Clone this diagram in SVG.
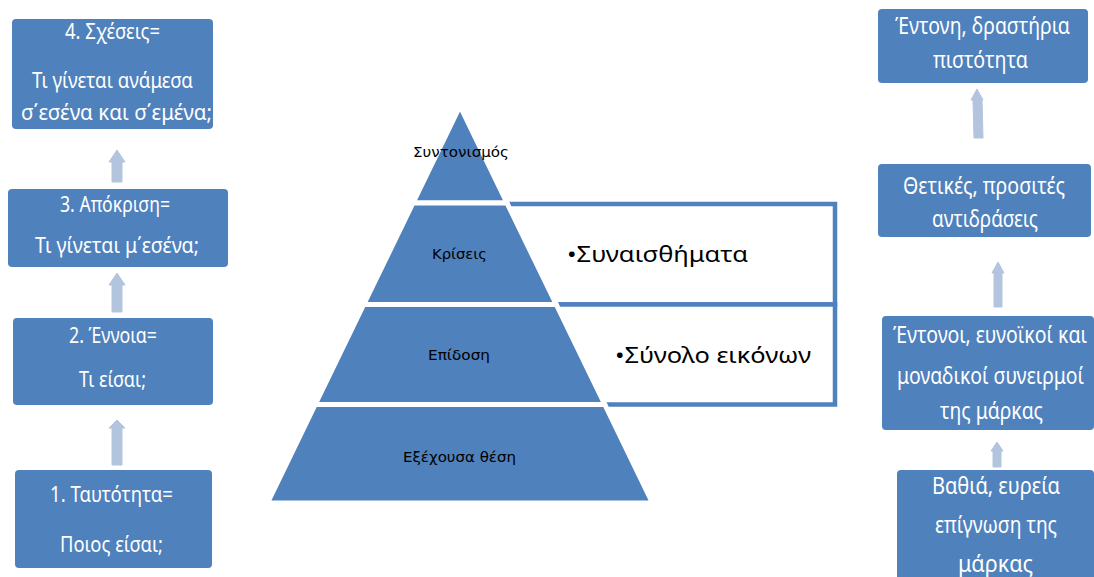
<svg xmlns="http://www.w3.org/2000/svg" width="1094" height="577" viewBox="0 0 1094 577">
<style>
.box{fill:#4F81BD}
.arr{fill:#B3C4DF;stroke:#B3C4DF;stroke-width:1;stroke-linejoin:round}
.wt{fill:#fff;font-family:"Noto Sans","DejaVu Sans",sans-serif;text-anchor:middle}
.l{font-size:21px}
.r{font-size:24px}
.pl{fill:#000;font-family:"DejaVu Sans","Noto Sans",sans-serif;font-size:14px;text-anchor:middle}
.bl{fill:#000;font-family:"Noto Sans","DejaVu Sans",sans-serif;font-size:22px}
.tier{fill:#4F81BD;stroke:#fff;stroke-width:5;stroke-linejoin:round}
.side{fill:#fff;stroke:#4F81BD;stroke-width:4.5}
</style>
<rect width="1094" height="577" fill="#fff"/>

<g id="connectors">
  <path class="arr" d="M117,150 L125,162 L122,162 L122,182 L112,182 L112,162 L109,162 Z"/>
  <path class="arr" d="M117,273 L125,285 L122,285 L122,312 L112,312 L112,285 L109,285 Z"/>
  <path class="arr" d="M117,420 L125,428 L122,428 L122,465 L112,465 L112,428 L109,428 Z"/>
  <path class="arr" d="M977,89 L983,100 L982,100 L983,138 L974,138 L973,100 L971,100 Z"/>
  <path class="arr" d="M998,262 L1004,273 L1002,273 L1002,307 L994,307 L994,273 L992,273 Z"/>
  <path class="arr" d="M997,442 L1003,451 L1001,451 L1001,467 L993,467 L993,451 L991,451 Z"/>
</g>

<g id="side-boxes">
  <rect class="side" x="480" y="204" width="355" height="100.5"/>
  <rect class="side" x="480" y="304.5" width="355" height="100"/>
  <text class="bl" x="567" y="262" textLength="181" lengthAdjust="spacingAndGlyphs">•Συναισθήματα</text>
  <text class="bl" x="615" y="363" textLength="196" lengthAdjust="spacingAndGlyphs">•Σύνολο εικόνων</text>
</g>

<g id="pyramid">
  <g id="tier1"><polygon class="tier" points="460,106 507,203 413,203"/>
    <text class="pl" x="461" y="157" textLength="96" lengthAdjust="spacingAndGlyphs">Συντονισμός</text></g>
  <g id="tier2"><polygon class="tier" points="413,203 507,203 556.3,304.5 363.7,304.5"/>
    <text class="pl" x="459.5" y="259" textLength="55" lengthAdjust="spacingAndGlyphs">Κρίσεις</text></g>
  <g id="tier3"><polygon class="tier" points="363.7,304.5 556.3,304.5 604.8,404.5 315.2,404.5"/>
    <text class="pl" x="459" y="360" textLength="62" lengthAdjust="spacingAndGlyphs">Επίδοση</text></g>
  <g id="tier4"><polygon class="tier" points="315.2,404.5 604.8,404.5 652.5,503 267.5,503"/>
    <text class="pl" x="459.5" y="462" textLength="113" lengthAdjust="spacingAndGlyphs">Εξέχουσα θέση</text></g>
</g>

<g id="left4">
  <rect class="box" x="12" y="19" width="201" height="110" rx="4"/>
  <text class="wt l" x="112.5" y="39" textLength="95" lengthAdjust="spacingAndGlyphs">4. Σχέσεις=</text>
  <text class="wt l" x="112.5" y="88" textLength="161" lengthAdjust="spacingAndGlyphs">Τι γίνεται ανάμεσα</text>
  <text class="wt l" x="116.5" y="120" textLength="191" lengthAdjust="spacingAndGlyphs">σ΄εσένα και σ΄εμένα;</text>
</g>
<g id="left3">
  <rect class="box" x="8" y="189" width="220" height="78" rx="4"/>
  <text class="wt l" x="115" y="212" textLength="110" lengthAdjust="spacingAndGlyphs">3. Απόκριση=</text>
  <text class="wt l" x="117" y="253" textLength="164" lengthAdjust="spacingAndGlyphs">Τι γίνεται μ΄εσένα;</text>
</g>
<g id="left2">
  <rect class="box" x="13" y="318" width="200" height="87" rx="4"/>
  <text class="wt l" x="113" y="343" textLength="88" lengthAdjust="spacingAndGlyphs">2. Έννοια=</text>
  <text class="wt l" x="112.5" y="387" textLength="67" lengthAdjust="spacingAndGlyphs">Τι είσαι;</text>
</g>
<g id="left1">
  <rect class="box" x="15" y="470" width="197" height="98" rx="4"/>
  <text class="wt l" x="111.5" y="502" textLength="123" lengthAdjust="spacingAndGlyphs">1. Ταυτότητα=</text>
  <text class="wt l" x="111.5" y="552" textLength="103" lengthAdjust="spacingAndGlyphs">Ποιος είσαι;</text>
</g>

<g id="right4">
  <rect class="box" x="878" y="9" width="210" height="74" rx="4"/>
  <text class="wt r" transform="translate(982.5,34) scale(0.75,1)" textLength="233.3" lengthAdjust="spacingAndGlyphs">Έντονη, δραστήρια</text>
  <text class="wt r" transform="translate(980.5,68) scale(0.75,1)" textLength="126.7" lengthAdjust="spacingAndGlyphs">πιστότητα</text>
</g>
<g id="right3">
  <rect class="box" x="878" y="164" width="213" height="73" rx="4"/>
  <text class="wt r" transform="translate(984,194) scale(0.75,1)" textLength="216" lengthAdjust="spacingAndGlyphs">Θετικές, προσιτές</text>
  <text class="wt r" transform="translate(985,227) scale(0.75,1)" textLength="141.3" lengthAdjust="spacingAndGlyphs">αντιδράσεις</text>
</g>
<g id="right2">
  <rect class="box" x="882" y="316" width="212" height="114" rx="4"/>
  <text class="wt r" transform="translate(990,343) scale(0.75,1)" textLength="258.7" lengthAdjust="spacingAndGlyphs">Έντονοι, ευνοϊκοί και</text>
  <text class="wt r" transform="translate(990.5,384) scale(0.75,1)" textLength="249.3" lengthAdjust="spacingAndGlyphs">μοναδικοί συνειρμοί</text>
  <text class="wt r" transform="translate(991.5,419) scale(0.75,1)" textLength="137.3" lengthAdjust="spacingAndGlyphs">της μάρκας</text>
</g>
<g id="right1">
  <rect class="box" x="897" y="470" width="197" height="112" rx="4"/>
  <text class="wt r" transform="translate(996,494) scale(0.75,1)" textLength="170.7" lengthAdjust="spacingAndGlyphs">Βαθιά, ευρεία</text>
  <text class="wt r" transform="translate(996,533) scale(0.75,1)" textLength="162.7" lengthAdjust="spacingAndGlyphs">επίγνωση της</text>
  <text class="wt r" transform="translate(995.5,572) scale(0.75,1)" textLength="100" lengthAdjust="spacingAndGlyphs">μάρκας</text>
</g>
</svg>
